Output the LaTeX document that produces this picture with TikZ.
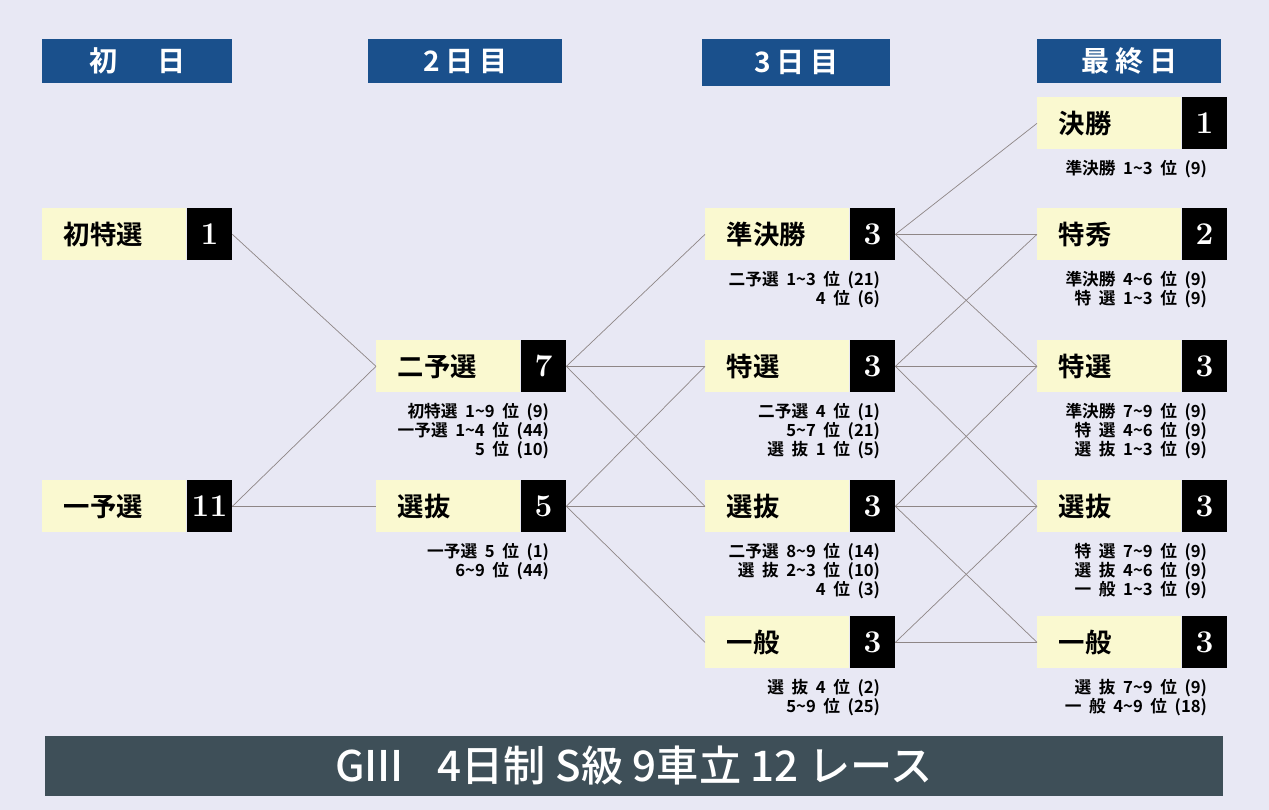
\documentclass[tikz,border=0pt]{standalone}
\usepackage{fontspec}
\usepackage{tikz}
\usetikzlibrary{positioning}
\newfontfamily\jpbold{Noto Sans CJK JP Bold}
\newfontfamily\jpmed{Noto Sans CJK JP Medium}
\newfontfamily\jpnote{Noto Sans CJK JP Bold}[WordSpace=2]
\newfontfamily\jpspaced{Noto Sans CJK JP Bold}[LetterSpace=20]
\definecolor{bgpurple}{HTML}{E8E8F4}
\definecolor{dayblue}{HTML}{1A508C}
\definecolor{raceyellow}{HTML}{FAF9D0}
\definecolor{bannergray}{HTML}{3E4F58}
\definecolor{linegray}{HTML}{8E8686}
\newcommand{\nami}{\textasciitilde}

\begin{document}
\begin{tikzpicture}[x=0.02cm,y=-0.02cm,
    dayhead/.style={fill=dayblue,text=white,minimum height=0.88cm,inner sep=0pt,anchor=north west,font=\fontsize{16}{16}\jpspaced},
    racebox/.style={fill=raceyellow,minimum width=2.88cm,minimum height=1.04cm,text width=2.02cm,inner xsep=0.43cm,inner ysep=0pt,align=left,anchor=north west,font=\fontsize{15}{15}\jpbold},
    numbox/.style={fill=black,text=white,minimum width=0.9cm,minimum height=1.04cm,inner sep=0pt,anchor=west,font=\fontsize{18}{18}\bfseries},
    note/.style={inner sep=0pt,align=right,font=\fontsize{9.5}{11}\jpnote},
    link/.style={draw=linegray,line width=0.4pt}]
    \fill[bgpurple] (0,0) rectangle (1269,810);
    % day headers
    \node[dayhead,minimum width=3.8cm] (day1) at (42,39) {初　日};
    \node[dayhead,minimum width=3.88cm] (day2) at (368,39) {2日目};
    \node[dayhead,minimum width=3.76cm,minimum height=0.94cm] (day3) at (702,39) {3日目};
    \node[dayhead,minimum width=3.68cm] (day4) at (1037,39) {最終日};
    % day 1
    \node[racebox] (d1tokusen) at (42,208) {初特選};
    \node[numbox] (d1tokusen-n) at (d1tokusen.east) {1};
    \node[racebox] (d1yosen) at (42,480) {一予選};
    \node[numbox] (d1yosen-n) at (d1yosen.east) {11};
    % day 2
    \node[racebox] (d2niyo) at (376,340) {二予選};
    \node[numbox] (d2niyo-n) at (d2niyo.east) {7};
    \node[note,below left=0.2cm and 0.34cm of d2niyo-n.south east] (d2niyo-l)
        {初特選 1\nami9 位 (9)\\一予選 1\nami4 位 (44)\\5 位 (10)};
    \node[racebox] (d2senbatsu) at (376,480) {選抜};
    \node[numbox] (d2senbatsu-n) at (d2senbatsu.east) {5};
    \node[note,below left=0.2cm and 0.34cm of d2senbatsu-n.south east] (d2senbatsu-l)
        {一予選 5 位 (1)\\6\nami9 位 (44)};
    % day 3
    \node[racebox] (d3junkessho) at (705,208) {準決勝};
    \node[numbox] (d3junkessho-n) at (d3junkessho.east) {3};
    \node[note,below left=0.2cm and 0.3cm of d3junkessho-n.south east] (d3junkessho-l)
        {二予選 1\nami3 位 (21)\\4 位 (6)};
    \node[racebox] (d3tokusen) at (705,340) {特選};
    \node[numbox] (d3tokusen-n) at (d3tokusen.east) {3};
    \node[note,below left=0.2cm and 0.3cm of d3tokusen-n.south east] (d3tokusen-l)
        {二予選 4 位 (1)\\5\nami7 位 (21)\\選 抜 1 位 (5)};
    \node[racebox] (d3senbatsu) at (705,480) {選抜};
    \node[numbox] (d3senbatsu-n) at (d3senbatsu.east) {3};
    \node[note,below left=0.2cm and 0.3cm of d3senbatsu-n.south east] (d3senbatsu-l)
        {二予選 8\nami9 位 (14)\\選 抜 2\nami3 位 (10)\\4 位 (3)};
    \node[racebox] (d3ippan) at (705,616) {一般};
    \node[numbox] (d3ippan-n) at (d3ippan.east) {3};
    \node[note,below left=0.2cm and 0.3cm of d3ippan-n.south east] (d3ippan-l)
        {選 抜 4 位 (2)\\5\nami9 位 (25)};
    % final day
    \node[racebox] (d4kessho) at (1037,97) {決勝};
    \node[numbox] (d4kessho-n) at (d4kessho.east) {1};
    \node[note,below left=0.2cm and 0.4cm of d4kessho-n.south east] (d4kessho-l)
        {準決勝 1\nami3 位 (9)};
    \node[racebox] (d4tokushu) at (1037,208) {特秀};
    \node[numbox] (d4tokushu-n) at (d4tokushu.east) {2};
    \node[note,below left=0.2cm and 0.4cm of d4tokushu-n.south east] (d4tokushu-l)
        {準決勝 4\nami6 位 (9)\\特 選 1\nami3 位 (9)};
    \node[racebox] (d4tokusen) at (1037,340) {特選};
    \node[numbox] (d4tokusen-n) at (d4tokusen.east) {3};
    \node[note,below left=0.2cm and 0.4cm of d4tokusen-n.south east] (d4tokusen-l)
        {準決勝 7\nami9 位 (9)\\特 選 4\nami6 位 (9)\\選 抜 1\nami3 位 (9)};
    \node[racebox] (d4senbatsu) at (1037,480) {選抜};
    \node[numbox] (d4senbatsu-n) at (d4senbatsu.east) {3};
    \node[note,below left=0.2cm and 0.4cm of d4senbatsu-n.south east] (d4senbatsu-l)
        {特 選 7\nami9 位 (9)\\選 抜 4\nami6 位 (9)\\一 般 1\nami3 位 (9)};
    \node[racebox] (d4ippan) at (1037,616) {一般};
    \node[numbox] (d4ippan-n) at (d4ippan.east) {3};
    \node[note,below left=0.2cm and 0.4cm of d4ippan-n.south east] (d4ippan-l)
        {選 抜 7\nami9 位 (9)\\一 般 4\nami9 位 (18)};
    % connectors
    \foreach \a/\b in {d1tokusen/d2niyo,d1yosen/d2niyo,d1yosen/d2senbatsu,
        d2niyo/d3junkessho,d2niyo/d3tokusen,d2niyo/d3senbatsu,
        d2senbatsu/d3tokusen,d2senbatsu/d3senbatsu,d2senbatsu/d3ippan,
        d3junkessho/d4kessho,d3junkessho/d4tokushu,d3junkessho/d4tokusen,
        d3tokusen/d4tokushu,d3tokusen/d4tokusen,d3tokusen/d4senbatsu,
        d3senbatsu/d4tokusen,d3senbatsu/d4senbatsu,d3senbatsu/d4ippan,
        d3ippan/d4senbatsu,d3ippan/d4ippan}
        \draw[link] (\a-n.east) -- (\b.west);
    % banner
    \node[fill=bannergray,text=white,minimum width=23.56cm,minimum height=1.22cm,inner sep=0pt,
        font=\fontsize{24}{24}\jpmed] (banner) at (634,766) {GIII\hspace{0.8em}4日制 S級 9車立 12 レース};
\end{tikzpicture}
\end{document}
